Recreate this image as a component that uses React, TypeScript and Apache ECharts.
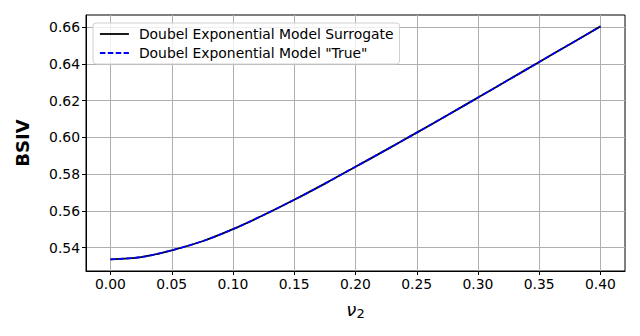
import React, { useEffect, useRef } from "react";
import * as echarts from "echarts";

const nu2 = [0, 0.025, 0.05, 0.075, 0.1, 0.125, 0.15, 0.175, 0.2, 0.225, 0.25, 0.275, 0.3, 0.325, 0.35, 0.375, 0.4];
const surrogate = [0.5335, 0.5348, 0.5385, 0.5434, 0.55, 0.5577, 0.566, 0.5748, 0.584, 0.5932, 0.6026, 0.6121, 0.6217, 0.6314, 0.6411, 0.6508, 0.6605];
const trueVals = [0.5335, 0.5348, 0.5385, 0.5434, 0.55, 0.5577, 0.566, 0.5748, 0.584, 0.5932, 0.6026, 0.6121, 0.6217, 0.6314, 0.6411, 0.6508, 0.6605];
const xTicks = [0, 0.05, 0.1, 0.15, 0.2, 0.25, 0.3, 0.35, 0.4];
const yTicks = [0.54, 0.56, 0.58, 0.6, 0.62, 0.64, 0.66];
const seriesNames = ["Doubel Exponential Model Surrogate", 'Doubel Exponential Model "True"'];

export default function App() {
  const ref = useRef<HTMLDivElement>(null);
  useEffect(() => {
    if (!ref.current) return;
    const chart = echarts.init(ref.current, null, { renderer: "svg" });
    const font = "DejaVu Sans";
    chart.setOption({
      animation: false,
      backgroundColor: "#fff",
      textStyle: { fontFamily: font },
      grid: { left: 86, right: 15, top: 15, bottom: 65, show: true, borderColor: "#000", borderWidth: 1, backgroundColor: "transparent" },
      legend: {
        left: 93,
        top: 23,
        orient: "vertical",
        itemWidth: 29,
        itemHeight: 14,
        itemGap: 5,
        padding: [4, 6, 4, 6],
        backgroundColor: "rgba(255,255,255,0.8)",
        borderColor: "#d0d0d0",
        borderWidth: 1,
        borderRadius: 3,
        textStyle: { fontFamily: font, fontSize: 13.9, color: "#000", padding: [0, 0, 0, 5] },
        itemStyle: { opacity: 0 },
        data: [
          { name: seriesNames[0], lineStyle: { color: "#000", width: 1.8, type: "solid" } },
          { name: seriesNames[1], lineStyle: { color: "#0000ff", width: 1.8, type: [5.5, 2.4] } },
        ],
      },
      xAxis: {
        type: "value",
        min: -0.02,
        max: 0.42,
        name: "{a|ν}{b|2}",
        nameLocation: "middle",
        nameGap: 28,
        nameTextStyle: {
          rich: {
            a: { fontFamily: font, fontStyle: "italic", fontSize: 18, color: "#000" },
            b: { fontFamily: font, fontSize: 13, color: "#000", verticalAlign: "bottom", padding: [8, 0, 0, 0] },
          },
        },
        axisLine: { show: true, onZero: false, lineStyle: { color: "#000", width: 1 } },
        axisTick: { show: true, length: 4, customValues: xTicks, lineStyle: { color: "#000" } },
        axisLabel: { customValues: xTicks, formatter: (v: number) => v.toFixed(2), color: "#000", fontSize: 13.9, fontFamily: font, margin: 6 },
        splitLine: { show: true, lineStyle: { color: "#b0b0b0", width: 1 } },
      },
      yAxis: {
        type: "value",
        min: 0.5272,
        max: 0.6667,
        name: "BSIV",
        nameLocation: "middle",
        nameGap: 55,
        nameTextStyle: { fontFamily: font, fontWeight: "bold", fontSize: 18, color: "#000" },
        axisLine: { show: true, onZero: false, lineStyle: { color: "#000", width: 1 } },
        axisTick: { show: true, length: 4, customValues: yTicks, lineStyle: { color: "#000" } },
        axisLabel: { customValues: yTicks, formatter: (v: number) => v.toFixed(2), color: "#000", fontSize: 13.9, fontFamily: font, margin: 6 },
        splitLine: { show: true, lineStyle: { color: "#b0b0b0", width: 1 } },
      },
      series: [
        {
          name: seriesNames[0],
          type: "line",
          data: nu2.map((x, i) => [x, surrogate[i]]),
          showSymbol: false,
          symbol: "none",
          smooth: 0.3,
          lineStyle: { color: "#000", width: 1.8 },
          itemStyle: { color: "#000" },
        },
        {
          name: seriesNames[1],
          type: "line",
          data: nu2.map((x, i) => [x, trueVals[i]]),
          showSymbol: false,
          symbol: "none",
          smooth: 0.3,
          lineStyle: { color: "#0000ff", width: 1.8, type: [5.5, 2.4] },
          itemStyle: { color: "#0000ff" },
        },
      ],
    });
    return () => chart.dispose();
  }, []);
  return <div ref={ref} style={{ position: "absolute", left: 0, top: 0, width: 640, height: 336 }} />;
}
